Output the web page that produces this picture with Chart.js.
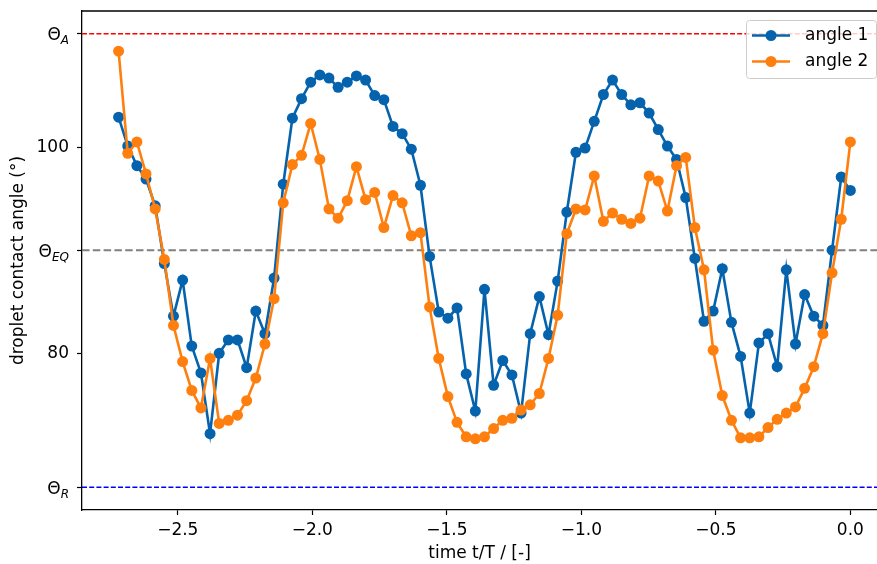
<!DOCTYPE html>
<html>
<head>
<meta charset="utf-8">
<script src="https://cdn.jsdelivr.net/npm/chart.js@4.4.1/dist/chart.umd.min.js"></script>
<style>
    html, body { margin: 0; padding: 0; background: #fff; overflow: hidden; }
    #wrap { width: 877px; height: 564px; position: relative; }
</style>
</head>
<body>
<div id="wrap"><canvas id="chart"></canvas></div>
<script>
// time t/T, evenly spaced samples
const timeT = [
    -2.720, -2.686, -2.652, -2.618, -2.584, -2.550, -2.516, -2.482, -2.448, -2.414,
    -2.380, -2.346, -2.312, -2.278, -2.244, -2.210, -2.176, -2.142, -2.108, -2.074,
    -2.040, -2.006, -1.972, -1.938, -1.904, -1.870, -1.836, -1.802, -1.768, -1.734,
    -1.700, -1.666, -1.632, -1.598, -1.564, -1.530, -1.496, -1.462, -1.428, -1.394,
    -1.360, -1.326, -1.292, -1.258, -1.224, -1.190, -1.156, -1.122, -1.088, -1.054,
    -1.020, -0.986, -0.952, -0.918, -0.884, -0.850, -0.816, -0.782, -0.748, -0.714,
    -0.680, -0.646, -0.612, -0.578, -0.544, -0.510, -0.476, -0.442, -0.408, -0.374,
    -0.340, -0.306, -0.272, -0.238, -0.204, -0.170, -0.136, -0.102, -0.068, -0.034,
    0.000
]

const angle1 = [
    102.9, 100.1, 98.2, 96.9, 94.3, 88.7, 83.6, 87.1, 80.7, 78.1,
    72.2, 80.0, 81.3, 81.3, 78.6, 84.1, 81.9, 87.3, 96.4, 102.8,
    104.7, 106.3, 107.0, 106.7, 105.8, 106.3, 106.9, 106.5, 105.0, 104.6,
    102.0, 101.3, 99.8, 96.3, 89.4, 84.0, 83.4, 84.4, 78.0, 74.4,
    86.2, 76.9, 79.3, 77.9, 74.2, 81.9, 85.5, 81.8, 87.0, 93.7,
    99.5, 99.9, 102.5, 105.1, 106.5, 105.1, 104.1, 104.3, 103.3, 101.7,
    100.1, 98.8, 95.1, 89.2, 83.1, 84.1, 88.2, 83.0, 79.7, 74.2,
    81.0, 81.9, 78.7, 88.1, 80.9, 85.7, 83.6, 82.7, 90.0, 97.1,
    95.8
]

const angle2 = [
    109.3, 99.4, 100.5, 97.4, 94.0, 89.1, 82.7, 79.2, 76.4, 74.7,
    79.5, 73.2, 73.5, 74.0, 75.4, 77.6, 80.9, 85.3, 94.6, 98.3,
    99.2, 102.3, 98.8, 94.0, 93.1, 94.8, 98.1, 94.9, 95.6, 92.2,
    95.3, 94.6, 91.4, 91.7, 84.5, 79.5, 75.8, 73.3, 71.9, 71.7,
    71.9, 72.7, 73.5, 73.7, 74.5, 75.0, 76.1, 79.5, 83.7, 91.6,
    94.0, 93.9, 97.2, 92.8, 93.6, 93.0, 92.6, 93.1, 97.2, 96.7,
    93.8, 98.2, 99.0, 92.2, 88.1, 80.3, 75.9, 73.5, 71.8, 71.8,
    71.9, 72.8, 73.6, 74.2, 74.8, 76.6, 78.7, 81.9, 87.8, 93.0,
    100.5
]

// reference angles
const thetaA = 111
const thetaEQ = 90
const thetaR = 67

const xTicks = [-2.5, -2.0, -1.5, -1.0, -0.5, 0.0]
const yTicks = [thetaR, 80, thetaEQ, 100, thetaA]
const yTickText = { 80: "80", 100: "100" }
const thetaLabels = [[thetaA, "A"], [thetaEQ, "EQ"], [thetaR, "R"]]

// the original figure is cropped on the right, so the axis ends at the canvas edge
const xMin = -2.856, xMax = 0.099
const yMin = 64.8, yMax = 113.2

const BLUE = "#0563ad"
const ORANGE = "#ff7f0e"
const FONT = "DejaVu Sans"
const FS = 17

function pts(ys) {
    return timeT.map((t, i) => ({ x: t, y: ys[i] }))
}

function hline(y, color, dash, width) {
    return {
        data: [{ x: xMin, y: y }, { x: xMax, y: y }],
        borderColor: color,
        borderDash: dash,
        borderWidth: width,
        pointRadius: 0,
        order: 3
    }
}

const frame = {
    id: "frame",
    afterDraw(chart) {
        const ctx = chart.ctx
        const ca = chart.chartArea
        const ys = chart.scales.y
        ctx.save()
        // top spine
        ctx.strokeStyle = "#000"
        ctx.lineWidth = 1.3
        ctx.beginPath()
        ctx.moveTo(ca.left, ca.top)
        ctx.lineTo(ca.right, ca.top)
        ctx.stroke()

        // theta tick labels with subscripts
        const xr = ca.left - 5 - 8
        const big = FS + "px '" + FONT + "'"
        const small = "italic 12px '" + FONT + "'"
        ctx.fillStyle = "#000"
        ctx.textAlign = "left"
        ctx.textBaseline = "alphabetic"
        thetaLabels.forEach(([v, sub]) => {
            const py = ys.getPixelForValue(v)
            ctx.font = big
            const wT = ctx.measureText("Θ").width
            ctx.font = small
            const wS = ctx.measureText(sub).width
            const x0 = xr - wS - wT
            ctx.font = big
            ctx.fillText("Θ", x0, py + 6.5)
            ctx.font = small
            ctx.fillText(sub, x0 + wT, py + 10.5)
        })

        // legend box, upper right
        const bx = ca.right - 131, by = ca.top + 9, bw = 130, bh = 58
        ctx.fillStyle = "rgba(255,255,255,0.8)"
        ctx.strokeStyle = "#cccccc"
        ctx.lineWidth = 1
        ctx.beginPath()
        ctx.roundRect(bx + 0.5, by + 0.5, bw, bh, 3)
        ctx.fill()
        ctx.stroke()
        const items = [["angle 1", BLUE], ["angle 2", ORANGE]]
        items.forEach(([label, color], i) => {
            const ly = by + 15.5 + i * 26
            ctx.strokeStyle = color
            ctx.lineWidth = 2.6
            ctx.beginPath()
            ctx.moveTo(bx + 6, ly)
            ctx.lineTo(bx + 44, ly)
            ctx.stroke()
            ctx.fillStyle = color
            ctx.beginPath()
            ctx.arc(bx + 25, ly, 5.5, 0, Math.PI * 2)
            ctx.fill()
            ctx.fillStyle = "#000"
            ctx.font = big
            ctx.textBaseline = "middle"
            ctx.fillText(label, bx + 59, ly)
        })
        ctx.restore()
    }
}

window.onload = () => {
    const chart = new Chart(document.getElementById("chart"), {
        type: "line",
        data: {
            datasets: [
                {
                    label: "angle 2",
                    data: pts(angle2),
                    borderColor: ORANGE,
                    backgroundColor: ORANGE,
                    pointBackgroundColor: ORANGE,
                    borderWidth: 2.6,
                    pointRadius: 5.5,
                    pointBorderWidth: 0,
                    tension: 0,
                    order: 0
                },
                {
                    label: "angle 1",
                    data: pts(angle1),
                    borderColor: BLUE,
                    backgroundColor: BLUE,
                    pointBackgroundColor: BLUE,
                    borderWidth: 2.6,
                    pointRadius: 5.5,
                    pointBorderWidth: 0,
                    tension: 0,
                    order: 1
                },
                hline(thetaA, "#ff0000", [5, 2.2], 1.5),
                hline(thetaEQ, "#808080", [7.5, 3.3], 2),
                hline(thetaR, "#0000ff", [5, 2.2], 1.5)
            ]
        },
        options: {
            responsive: true,
            maintainAspectRatio: false,
            animation: false,
            layout: { autoPadding: false, padding: { top: 11, right: 0, left: 0, bottom: 0 } },
            plugins: {
                legend: { display: false },
                tooltip: { enabled: false }
            },
            scales: {
                x: {
                    type: "linear",
                    min: xMin,
                    max: xMax,
                    afterBuildTicks: (s) => { s.ticks = xTicks.map(v => ({ value: v })) },
                    afterFit: (s) => { s.height = 54; s.paddingLeft = 0; s.paddingRight = 0 },
                    ticks: {
                        color: "#000",
                        font: { family: FONT, size: FS },
                        padding: 5,
                        maxRotation: 0,
                        callback: (v) => Number(v).toFixed(1).replace("-", "\u2212")
                    },
                    grid: { drawOnChartArea: false, drawTicks: true, tickLength: 5, color: "#000", tickWidth: 1.2 },
                    border: { display: true, color: "#000", width: 1.3 },
                    title: {
                        display: true,
                        text: "time t/T / [-]",
                        color: "#000",
                        font: { family: FONT, size: FS },
                        padding: { top: 0, bottom: 0 }
                    }
                },
                y: {
                    type: "linear",
                    min: yMin,
                    max: yMax,
                    afterBuildTicks: (s) => { s.ticks = yTicks.map(v => ({ value: v })) },
                    afterFit: (s) => { s.width = 82; s.paddingTop = 0; s.paddingBottom = 0 },
                    ticks: {
                        color: "#000",
                        font: { family: FONT, size: FS },
                        padding: 8,
                        callback: (v) => yTickText[v] || ""
                    },
                    grid: { drawOnChartArea: false, drawTicks: true, tickLength: 5, color: "#000", tickWidth: 1.2 },
                    border: { display: true, color: "#000", width: 1.3 },
                    title: {
                        display: true,
                        text: "droplet contact angle (°)",
                        color: "#000",
                        font: { family: FONT, size: FS },
                        padding: { top: 8, bottom: 0 }
                    }
                }
            }
        },
        plugins: [frame]
    })

    // nudge the layout if chart.js still adds its own padding at the top
    const extraTop = chart.chartArea.top - 11
    if (extraTop > 0.5) {
        chart.options.layout.padding.top = Math.max(0, 11 - extraTop)
        chart.update()
    }
}
</script>
</body>
</html>
